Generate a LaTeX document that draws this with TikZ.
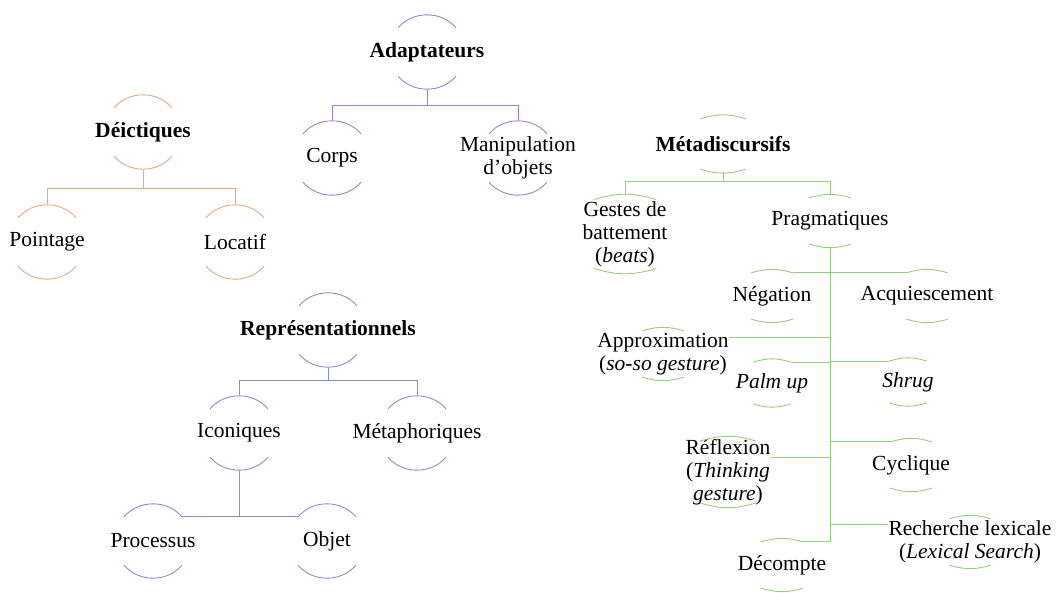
\documentclass[tikz,border=0pt]{standalone}
\usepackage{fontspec}
\setmainfont{Liberation Serif}
\usetikzlibrary{shapes.geometric}

\definecolor{deicorange}{RGB}{230,168,130}
\definecolor{adaptpurple}{RGB}{165,125,205}
\definecolor{repblue}{RGB}{130,145,205}
\definecolor{metagreen}{RGB}{150,205,130}

\begin{document}
\begin{tikzpicture}[
        x=1pt, y=-1pt,
        font=\fontsize{21.5}{23}\selectfont,
        every label/.style={align=center, inner sep=0pt, text=black},
        ring/.style={circle, inner sep=0pt, minimum size=75pt},
        oval/.style={ellipse, inner sep=0pt, minimum width=88pt, minimum height=52pt},
        title/.style={font=\fontsize{21.5}{23}\selectfont\bfseries},
        branch/.style={line width=0.9pt}
    ]
        \useasboundingbox (0,0) rectangle (1058,592);

        % Deictiques tree
        \node[ring, label={[title]center:Déictiques}] (deic_root) at (143,132) {};
        \node[ring, label={center:Pointage}] (pointage) at (47,242) {};
        \node[ring, label={center:Locatif}] (locatif) at (235,242) {};

        \draw[branch, deicorange] (deic_root.south) -- ++(0,19) -| (pointage.north);
        \draw[branch, deicorange] (deic_root.south) -- ++(0,19) -| (locatif.north);

        % Adaptateurs tree
        \node[ring, label={[title]center:Adaptateurs}] (adapt_root) at (427,52) {};
        \node[ring, label={center:Corps}] (corps) at (332,158) {};
        \node[ring, label={center:Manipulation\\d'objets}] (manipulation) at (518,158) {};

        \draw[branch, adaptpurple] (adapt_root.south) -- ++(0,16) -| (corps.north);
        \draw[branch, adaptpurple] (adapt_root.south) -- ++(0,16) -| (manipulation.north);

        % Representationnels tree
        \node[ring, label={[title]center:Représentationnels}] (rep_root) at (328,330) {};
        \node[ring, label={center:Iconiques}] (iconiques) at (239,433) {};
        \node[ring, label={center:Métaphoriques}] (metaphoriques) at (417,433) {};
        \node[ring, label={center:Processus}] (processus) at (153,541) {};
        \node[ring, label={center:Objet}] (objet) at (327,541) {};

        \draw[branch, repblue] (rep_root.south) -- ++(0,13) -| (iconiques.north);
        \draw[branch, repblue] (rep_root.south) -- ++(0,13) -| (metaphoriques.north);
        \draw[branch, repblue] (iconiques.south) |- (processus.40);
        \draw[branch, repblue] (iconiques.south) |- (objet.140);

        % Metadiscursifs tree
        \node[oval, minimum width=110pt, minimum height=55pt, label={[title]center:Métadiscursifs}] (meta_root) at (723,144) {};
        \node[oval, minimum width=130pt, minimum height=78pt, label={center:Gestes de\\battement\\(\textit{beats})}] (gestes) at (625,234) {};
        \node[oval, label={center:Pragmatiques}] (pragmatiques) at (830,221) {};
        \node[oval, label={center:Négation}] (negation) at (772,296) {};
        \node[oval, label={center:Acquiescement}] (acquiescement) at (927,296) {};
        \node[oval, label={[name=approx_txt]center:Approximation\\(\textit{so-so gesture})}] (approximation) at (663,354) {};
        \node[oval, minimum width=80pt, minimum height=47pt, label={center:\textit{Palm up}}] (palm_up) at (772,383) {};
        \node[oval, minimum width=80pt, minimum height=47pt, label={center:\textit{Shrug}}] (shrug) at (908,382) {};
        \node[oval, minimum width=100pt, minimum height=74pt, label={[name=reflexion_txt]center:Réflexion\\(\textit{Thinking}\\\textit{gesture})}] (reflexion) at (728,472) {};
        \node[oval, label={center:Cyclique}] (cyclique) at (911,465) {};
        \node[oval, label={[name=recherche_txt]center:Recherche lexicale\\(\textit{Lexical Search})}] (recherche) at (970,542) {};
        \node[oval, label={center:Décompte}] (decompte) at (782,565) {};

        \draw[branch, metagreen] (meta_root.south) -- ++(0,10) -| (gestes.north);
        \draw[branch, metagreen] (meta_root.south) -- ++(0,10) -| (pragmatiques.north);
        \draw[branch, metagreen] (pragmatiques.south) |- (negation.48);
        \draw[branch, metagreen] (pragmatiques.south) |- (acquiescement.132);
        \draw[branch, metagreen] (pragmatiques.south) |- ([yshift=17pt]approx_txt.east);
        \draw[branch, metagreen] (pragmatiques.south) |- (palm_up.48);
        \draw[branch, metagreen] (pragmatiques.south) |- (shrug.132);
        \draw[branch, metagreen] (pragmatiques.south) |- ([yshift=15pt]reflexion_txt.east);
        \draw[branch, metagreen] (pragmatiques.south) |- (cyclique.132);
        \draw[branch, metagreen] (pragmatiques.south) |- ([yshift=18pt]recherche_txt.west);
        \draw[branch, metagreen] (pragmatiques.south) |- (decompte.48);

        % Arcs above and below each label
        \foreach \n in {deic_root, pointage, locatif}
            \draw[branch, deicorange] (\n.40) to[bend right=50] (\n.140) (\n.220) to[bend right=50] (\n.320);
        \foreach \n in {adapt_root, corps, manipulation}
            \draw[branch, adaptpurple] (\n.40) to[bend right=50] (\n.140) (\n.220) to[bend right=50] (\n.320);
        \foreach \n in {rep_root, iconiques, metaphoriques, processus, objet}
            \draw[branch, repblue] (\n.40) to[bend right=50] (\n.140) (\n.220) to[bend right=50] (\n.320);
        \foreach \n in {meta_root, gestes, pragmatiques, negation, acquiescement, approximation,
                        palm_up, shrug, reflexion, cyclique, recherche, decompte}
            \draw[branch, metagreen] (\n.48) to[bend right=17] (\n.132) (\n.228) to[bend right=17] (\n.312);

    \end{tikzpicture}
\end{document}
